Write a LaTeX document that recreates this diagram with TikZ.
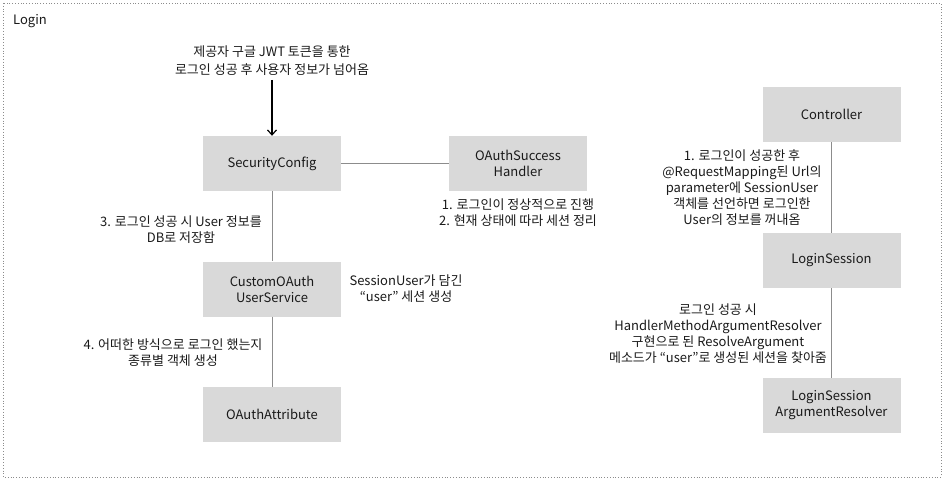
\documentclass[tikz,border=0pt]{standalone}
\usepackage{fontspec}
\setmainfont{Noto Sans CJK KR}
\usetikzlibrary{arrows.meta}
\definecolor{boxfill}{HTML}{D9D9D9}
\definecolor{linegray}{HTML}{8C8C8C}
\definecolor{txt}{HTML}{1A1A1A}
\begin{document}
\begin{tikzpicture}[x=1pt,y=-1pt,
  every node/.style={text=txt, font=\fontsize{13}{16}\selectfont},
  box/.style={fill=boxfill, minimum width=138pt, minimum height=55pt, align=center, inner sep=0pt},
  lbl/.style={align=center, inner sep=0pt},
  conn/.style={draw=linegray, line width=0.9pt},
  flow/.style={draw=black, line width=1.4pt, -{Straight Barb[length=5pt,width=9pt,line width=1.2pt]}}
]
\useasboundingbox (0,0) rectangle (944,481);
\draw[linegray, dotted, line width=0.8pt] (3,3) rectangle (941,477);
\node[lbl, anchor=west] (title) at (13,21) {Login};

\node[box] (sec) at (272,163.5) {SecurityConfig};
\node[box] (succ) at (518,163.5) {OAuthSuccess\\Handler};
\node[box] (cust) at (272,289) {CustomOAuth\\UserService};
\node[box] (attr) at (272,414.5) {OAuthAttribute};
\node[box] (ctrl) at (831.5,114.5) {Controller};
\node[box] (ls) at (831.5,260.5) {LoginSession};
\node[box] (lsar) at (831.5,405.5) {LoginSession\\ArgumentResolver};

\node[lbl, font=\fontsize{13}{18}\selectfont] (top) at (272,61) {제공자 구글 JWT 토큰을 통한\\로그인 성공 후 사용자 정보가 넘어옴};
\coordinate (arrstart) at (272,80);
\node[lbl] (lab3) at (181,229.5) {3. 로그인 성공 시 User 정보를\\DB로 저장함};
\node[lbl] (lab4) at (173,352.5) {4. 어떠한 방식으로 로그인 했는지\\종류별 객체 생성};
\node[lbl] (labsu) at (406,289) {SessionUser가 담긴\\“user” 세션 생성};
\node[lbl] (labsucc) at (518,213) {1. 로그인이 정상적으로 진행\\2. 현재 상태에 따라 세션 정리};
\node[lbl] (labctrl) at (742,188) {1. 로그인이 성공한 후\\@RequestMapping된 Url의\\parameter에 SessionUser\\객체를 선언하면 로그인한\\User의 정보를 꺼내옴};
\node[lbl] (labls) at (718,334) {로그인 성공 시\\HandlerMethodArgumentResolver\\구현으로 된 ResolveArgument\\메소드가 “user”로 생성된 세션을 찾아줌};

\draw[flow] (arrstart) -- (sec.north);
\draw[conn] (sec.east) -- (succ.west);
\draw[conn] (sec.south) -- (cust.north);
\draw[conn] (cust.south) -- (attr.north);
\draw[conn] (ctrl.south) -- (ls.north);
\draw[conn] (ls.south) -- (lsar.north);
\end{tikzpicture}
\end{document}
